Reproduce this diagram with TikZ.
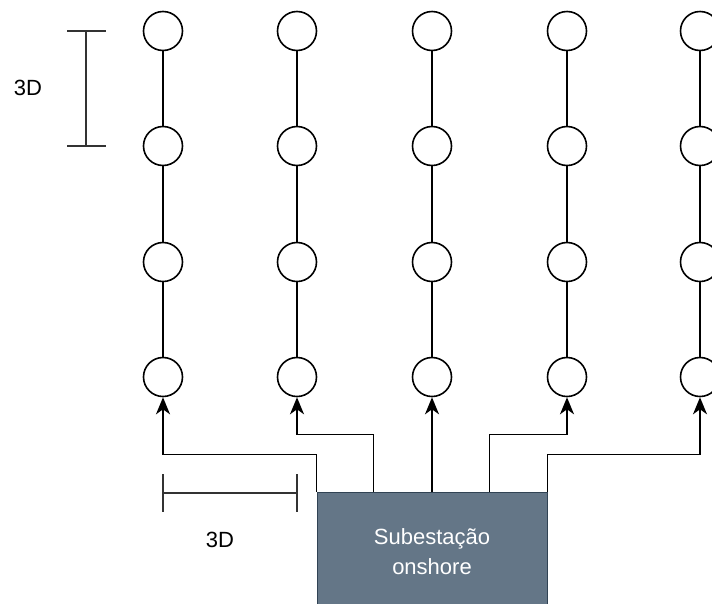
\documentclass[tikz,border=0pt]{standalone}
\usepackage{fontspec}
\setmainfont{Liberation Sans}
\usetikzlibrary{arrows.meta}
\definecolor{subfill}{HTML}{647687}
\definecolor{subdraw}{HTML}{314354}
\begin{document}
\begin{tikzpicture}[x=1pt,y=-1pt,
  turbine/.style={circle,draw,fill=white,line width=1.6pt,minimum size=39pt,inner sep=0pt},
  wire/.style={line width=1.6pt},
  feed/.style={line width=1.6pt,-{Stealth[length=17pt,width=14pt,inset=5pt]}},
  dim/.style={line width=1.6pt,black!80},
  lbl/.style={font=\fontsize{22}{29}\selectfont,inner sep=0pt},
  subbox/.style={draw=subdraw,fill=subfill,line width=1pt,minimum width=230pt,minimum height=120pt,
    text=white,align=center,font=\fontsize{22}{30}\selectfont}]
\useasboundingbox (0,0) rectangle (712,603);
\clip (0,0) rectangle (712,603);
\foreach \x [count=\i] in {163,297,432,567,700}{
  \foreach \y [count=\j] in {31,146,262,377}{
    \node[turbine] (c\i\j) at (\x,\y) {};
  }
  \draw[wire] (c\i1) -- (c\i2) (c\i2) -- (c\i3) (c\i3) -- (c\i4);
}
\node[subbox] (sub) at (432,552) {Subestação\\onshore};
\draw[feed] (sub.north west) -- ++(0,-37) -| (c14.south);
\draw[feed] ([xshift=57pt]sub.north west) -- ++(0,-57) -| (c24.south);
\draw[feed] (sub.north) -- (c34.south);
\draw[feed] ([xshift=-58pt]sub.north east) -- ++(0,-57) -| (c44.south);
\draw[feed] (sub.north east) -- ++(0,-37) -| (c54.south);
% vertical dimension
\coordinate (vt) at (86,31);
\coordinate (vb) at (86,146);
\draw[dim] (vt) -- (vb);
\draw[dim] ([xshift=-19pt]vt) -- ([xshift=20pt]vt);
\draw[dim] ([xshift=-19pt]vb) -- ([xshift=20pt]vb);
\node[lbl] (lv) at (28,88) {3D};
% horizontal dimension
\coordinate (hl) at (163,493);
\coordinate (hr) at (297,493);
\draw[dim] (hl) -- (hr);
\draw[dim] ([yshift=19pt]hl) -- ([yshift=-19pt]hl);
\draw[dim] ([yshift=19pt]hr) -- ([yshift=-19pt]hr);
\node[lbl] (lh) at (220,540) {3D};
\end{tikzpicture}
\end{document}
